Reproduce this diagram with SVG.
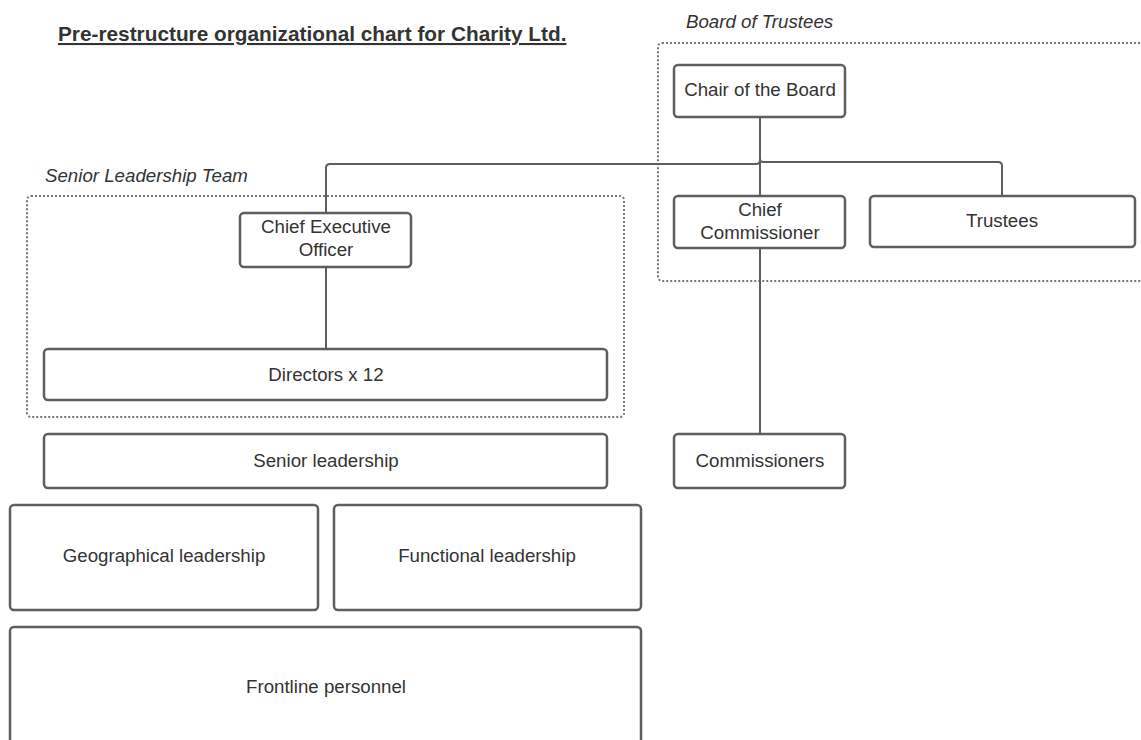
<svg xmlns="http://www.w3.org/2000/svg" width="1141" height="740" viewBox="0 0 1141 740">
<style>
.box{fill:#fff;stroke:#5e5e5e;stroke-width:2.5}
.grp{fill:none;stroke:#777;stroke-width:2;stroke-dasharray:2 2}
.t{font-family:"Liberation Sans",Arial,sans-serif;font-size:18.7px;fill:#333;text-anchor:middle}
.gl{font-family:"Liberation Sans",Arial,sans-serif;font-size:18.7px;font-style:italic;fill:#333}
.ln{fill:none;stroke:#5e5e5e;stroke-width:2}
</style>
<rect width="1141" height="740" fill="#fff"/>
<text x="58" y="41" font-family="Liberation Sans, Arial, sans-serif" font-size="20.8" font-weight="bold" fill="#333" text-decoration="underline">Pre-restructure organizational chart for Charity Ltd.</text>
<g id="board-group">
<rect class="grp" x="658" y="43" width="500" height="238" rx="4"/>
<text class="gl" x="686" y="28">Board of Trustees</text>
</g>
<g id="slt-group">
<rect class="grp" x="27" y="196" width="597" height="221" rx="4"/>
<text class="gl" x="45" y="182">Senior Leadership Team</text>
</g>
<g id="connectors">
<path class="ln" d="M760,117 V160 Q760,164 756,164 H330 Q326,164 326,168 V213"/>
<path class="ln" d="M760,117 V196"/>
<path class="ln" d="M760,159 Q760,162 763,162 H998 Q1002,162 1002,166 V196"/>
<path class="ln" d="M326,267 V349"/>
<path class="ln" d="M760,248 V434"/>
</g>
<g id="chair"><rect class="box" x="674" y="65" width="171" height="52" rx="4"/><text class="t" x="760" y="96">Chair of the Board</text></g>
<g id="chief-commissioner"><rect class="box" x="674" y="196" width="171" height="52" rx="4"/><text class="t" x="760" y="216">Chief</text><text class="t" x="760" y="239">Commissioner</text></g>
<g id="trustees"><rect class="box" x="870" y="196" width="265" height="51" rx="4"/><text class="t" x="1002" y="227">Trustees</text></g>
<g id="commissioners"><rect class="box" x="674" y="434" width="171" height="54" rx="4"/><text class="t" x="760" y="467">Commissioners</text></g>
<g id="ceo"><rect class="box" x="240" y="213" width="171" height="54" rx="4"/><text class="t" x="326" y="233">Chief Executive</text><text class="t" x="326" y="256">Officer</text></g>
<g id="directors"><rect class="box" x="44" y="349" width="563" height="51" rx="4"/><text class="t" x="326" y="381">Directors x 12</text></g>
<g id="senior-leadership"><rect class="box" x="44" y="434" width="563" height="54" rx="4"/><text class="t" x="326" y="467">Senior leadership</text></g>
<g id="geographical"><rect class="box" x="10" y="505" width="308" height="105" rx="4"/><text class="t" x="164" y="562">Geographical leadership</text></g>
<g id="functional"><rect class="box" x="334" y="505" width="307" height="105" rx="4"/><text class="t" x="487" y="562">Functional leadership</text></g>
<g id="frontline"><rect class="box" x="10" y="627" width="631" height="140" rx="4"/><text class="t" x="326" y="693">Frontline personnel</text></g>
</svg>
